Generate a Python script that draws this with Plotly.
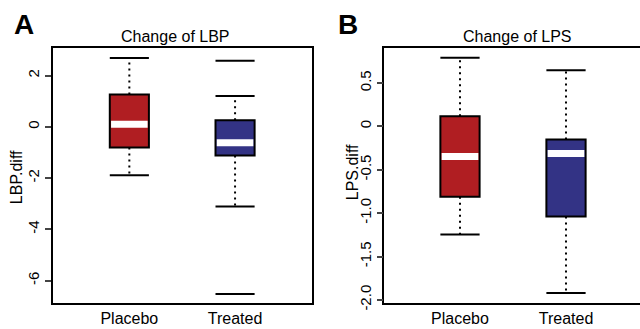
import plotly.graph_objects as go

groups = ["Placebo", "Treated"]
group_pos = [1, 2]

# Panel A: Change of LBP
lbp_upper = [2.69, 1.21]
lbp_q3 = [1.26, 0.26]
lbp_median = [0.10, -0.62]
lbp_q1 = [-0.80, -1.12]
lbp_lower = [-1.89, -3.11]
lbp_outliers = [[], [2.58, -6.52]]

# Panel B: Change of LPS
lps_upper = [0.79, 0.646]
lps_q3 = [0.116, -0.151]
lps_median = [-0.346, -0.312]
lps_q1 = [-0.81, -1.04]
lps_lower = [-1.245, -1.92]
lps_outliers = [[], []]

fill_colors = ["#B01E22", "#333385"]
BW = 0.37
FONT = "Liberation Sans, Arial, sans-serif"

W, H = 640, 329


def px(x):
    return x / W


def py(y):
    return 1 - y / H


fig = go.Figure()


def add_panel(xa, ya, upper, q3, med, q1, lower, outl):
    for i, x in enumerate(group_pos):
        fig.add_trace(go.Scatter(x=[x, x], y=[q3[i], upper[i]], mode="lines",
                                 line=dict(color="black", width=2, dash="2px,4px"),
                                 xaxis=xa, yaxis=ya, showlegend=False, hoverinfo="skip"))
        fig.add_trace(go.Scatter(x=[x, x], y=[q1[i], lower[i]], mode="lines",
                                 line=dict(color="black", width=2, dash="2px,4px"),
                                 xaxis=xa, yaxis=ya, showlegend=False, hoverinfo="skip"))
        for v in (upper[i], lower[i]):
            fig.add_trace(go.Scatter(x=[x - BW / 2, x + BW / 2], y=[v, v], mode="lines",
                                     line=dict(color="black", width=2),
                                     xaxis=xa, yaxis=ya, showlegend=False, hoverinfo="skip"))
        for v in outl[i]:
            fig.add_trace(go.Scatter(x=[x - BW / 2, x + BW / 2], y=[v, v], mode="lines",
                                     line=dict(color="black", width=2),
                                     xaxis=xa, yaxis=ya, showlegend=False, hoverinfo="skip"))
    fig.add_trace(go.Bar(x=group_pos, base=q1, y=[a - b for a, b in zip(q3, q1)],
                         width=BW, marker=dict(color=fill_colors, line=dict(color="black", width=2)),
                         xaxis=xa, yaxis=ya, showlegend=False, hoverinfo="skip"))
    for i, x in enumerate(group_pos):
        fig.add_trace(go.Scatter(x=[x - BW / 2 + 0.012, x + BW / 2 - 0.012], y=[med[i], med[i]], mode="lines",
                                 line=dict(color="white", width=7),
                                 xaxis=xa, yaxis=ya, showlegend=False, hoverinfo="skip"))


add_panel("x", "y", lbp_upper, lbp_q3, lbp_median, lbp_q1, lbp_lower, lbp_outliers)
add_panel("x2", "y2", lps_upper, lps_q3, lps_median, lps_q1, lps_lower, lps_outliers)

ydom = [py(310), py(49.3)]
axis_common = dict(showgrid=False, zeroline=False, showline=True, linecolor="black", linewidth=1.5)

fig.update_layout(
    width=W, height=H,
    margin=dict(l=0, r=0, t=0, b=0),
    paper_bgcolor="white", plot_bgcolor="white",
    font=dict(family=FONT, color="black", size=15),
    barmode="overlay",
    xaxis=dict(domain=[px(52.7), px(311.7)], range=[0.275, 2.725], tickvals=group_pos,
               ticktext=groups, ticks="", mirror=True, anchor="y", **axis_common,
               tickfont=dict(size=16)),
    yaxis=dict(domain=ydom, range=[-6.89, 3.07], tickvals=[-6, -4, -2, 0, 2],
               ticktext=["-6", "-4", "-2", "0", "2"], ticks="outside", ticklen=6, tickwidth=1.5,
               tickangle=-90, mirror=True, anchor="x", **axis_common, tickfont=dict(size=15)),
    xaxis2=dict(domain=[px(384.3), 1.0], range=[0.286, 2.698], tickvals=group_pos,
                ticktext=groups, ticks="", mirror=True, anchor="y2", **axis_common,
                tickfont=dict(size=16)),
    yaxis2=dict(domain=ydom, range=[-2.04, 0.90], tickvals=[-2.0, -1.5, -1.0, -0.5, 0, 0.5],
                ticktext=["-2.0", "-1.5", "-1.0", "-0.5", "0", "0.5"], ticks="outside", ticklen=6,
                tickwidth=1.5, tickangle=-90, mirror=False, anchor="x2", **axis_common,
                tickfont=dict(size=15)),
)

ann = [
    dict(text="<b>A</b>", x=px(24), y=py(25), font=dict(size=28)),
    dict(text="<b>B</b>", x=px(348), y=py(25), font=dict(size=28)),
    dict(text="Change of LBP", x=px(175), y=py(37), font=dict(size=16)),
    dict(text="Change of LPS", x=px(517), y=py(37), font=dict(size=16)),
    dict(text="LBP.diff", x=px(16), y=py(181), textangle=-90, font=dict(size=16)),
    dict(text="LPS.diff", x=px(352), y=py(176), textangle=-90, font=dict(size=16)),
]
for a in ann:
    a.update(xref="paper", yref="paper", showarrow=False, xanchor="center", yanchor="middle")
    fig.add_annotation(**a)

fig.write_html("out.html", config={"displayModeBar": False},
               post_script="document.body.style.margin='0';document.body.style.overflow='hidden';")
